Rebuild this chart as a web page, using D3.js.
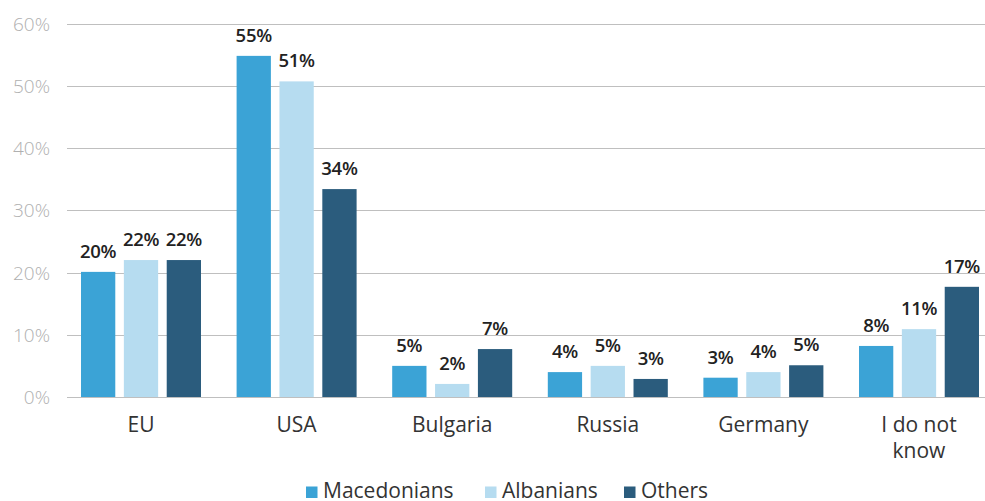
<!DOCTYPE html>
<html><head><meta charset="utf-8">
<script src="https://cdn.jsdelivr.net/npm/d3@7/dist/d3.min.js"></script>
<style>body{margin:0;background:#fff}svg{display:block;font-family:"Open Sans",sans-serif}</style>
</head><body><svg id="c" width="985" height="501"></svg>
<script>
const categories = ["EU","USA","Bulgaria","Russia","Germany","I do not know"];
const seriesNames = ["Macedonians","Albanians","Others"];
const macedonians = [20.1, 54.8, 5.0, 4.0, 3.1, 8.2];
const albanians = [22.0, 50.7, 2.1, 5.0, 4.0, 10.9];
const others = [22.0, 33.4, 7.7, 2.9, 5.1, 17.7];
const labelsMac = ["20%","55%","5%","4%","3%","8%"];
const labelsAlb = ["22%","51%","2%","5%","4%","11%"];
const labelsOth = ["22%","34%","7%","3%","5%","17%"];
const yTicks = [0,10,20,30,40,50,60];
const colors = ["#3ba3d6","#b6dcf0","#2b5c7d"];

const series = [macedonians, albanians, others];
const labels = [labelsMac, labelsAlb, labelsOth];
const svg = d3.select("#c");
const y = d3.scaleLinear().domain([0,60]).range([397,23.5]);
const x = d3.scaleBand().domain(categories).range([63.2,996.8]).paddingInner(0).paddingOuter(0);
const x1 = d3.scaleBand().domain(seriesNames).range([x.bandwidth()/2-60, x.bandwidth()/2+60]).paddingInner(0.2).paddingOuter(0);

// gridlines
svg.append("g").selectAll("line").data(yTicks).join("line")
  .attr("x1",67).attr("x2",985).attr("y1",d=>Math.round(y(d))+0.5).attr("y2",d=>Math.round(y(d))+0.5)
  .attr("stroke","#bfbfbf").attr("stroke-width",1);
svg.append("g").selectAll("text").data(yTicks).join("text")
  .attr("x",50).attr("y",d=>y(d)+7).attr("text-anchor","end")
  .attr("font-size",19).attr("font-weight",300).attr("fill","#b0b0b0").text(d=>d+"%");

// bars
seriesNames.forEach((s,si)=>{
  const g = svg.append("g");
  g.selectAll("rect").data(categories).join("rect")
    .attr("x",(c)=>x(c)+x1(s)).attr("width",x1.bandwidth())
    .attr("y",(c,i)=>y(series[si][i])).attr("height",(c,i)=>y(0)-y(series[si][i]))
    .attr("fill",colors[si]);
  g.selectAll("text").data(categories).join("text")
    .attr("x",(c)=>x(c)+x1(s)+x1.bandwidth()/2).attr("y",(c,i)=>y(series[si][i])-14)
    .attr("text-anchor","middle").attr("font-size",18.5).attr("font-weight",600)
    .attr("letter-spacing","-0.3").attr("fill","#222").text((c,i)=>labels[si][i]);
});

// category labels
const catLines = {"I do not know":["I do not","know"]};
svg.append("g").selectAll("text").data(categories).join("text")
  .attr("x",c=>x(c)+x.bandwidth()/2).attr("y",432).attr("text-anchor","middle")
  .attr("font-size",21).attr("fill","#333")
  .each(function(c){
    const lines = catLines[c]||[c];
    d3.select(this).selectAll("tspan").data(lines).join("tspan")
      .attr("x",x(c)+x.bandwidth()/2).attr("dy",(d,i)=>i?26:0).text(d=>d);
  });

// legend
const legX = [306,485,624];
const leg = svg.append("g");
seriesNames.forEach((s,i)=>{
  leg.append("rect").attr("x",legX[i]).attr("y",486.5).attr("width",11.5).attr("height",11.5).attr("fill",colors[i]);
  leg.append("text").attr("x",legX[i]+17).attr("y",498).attr("font-size",21).attr("fill","#333").text(s);
});
</script></body></html>
